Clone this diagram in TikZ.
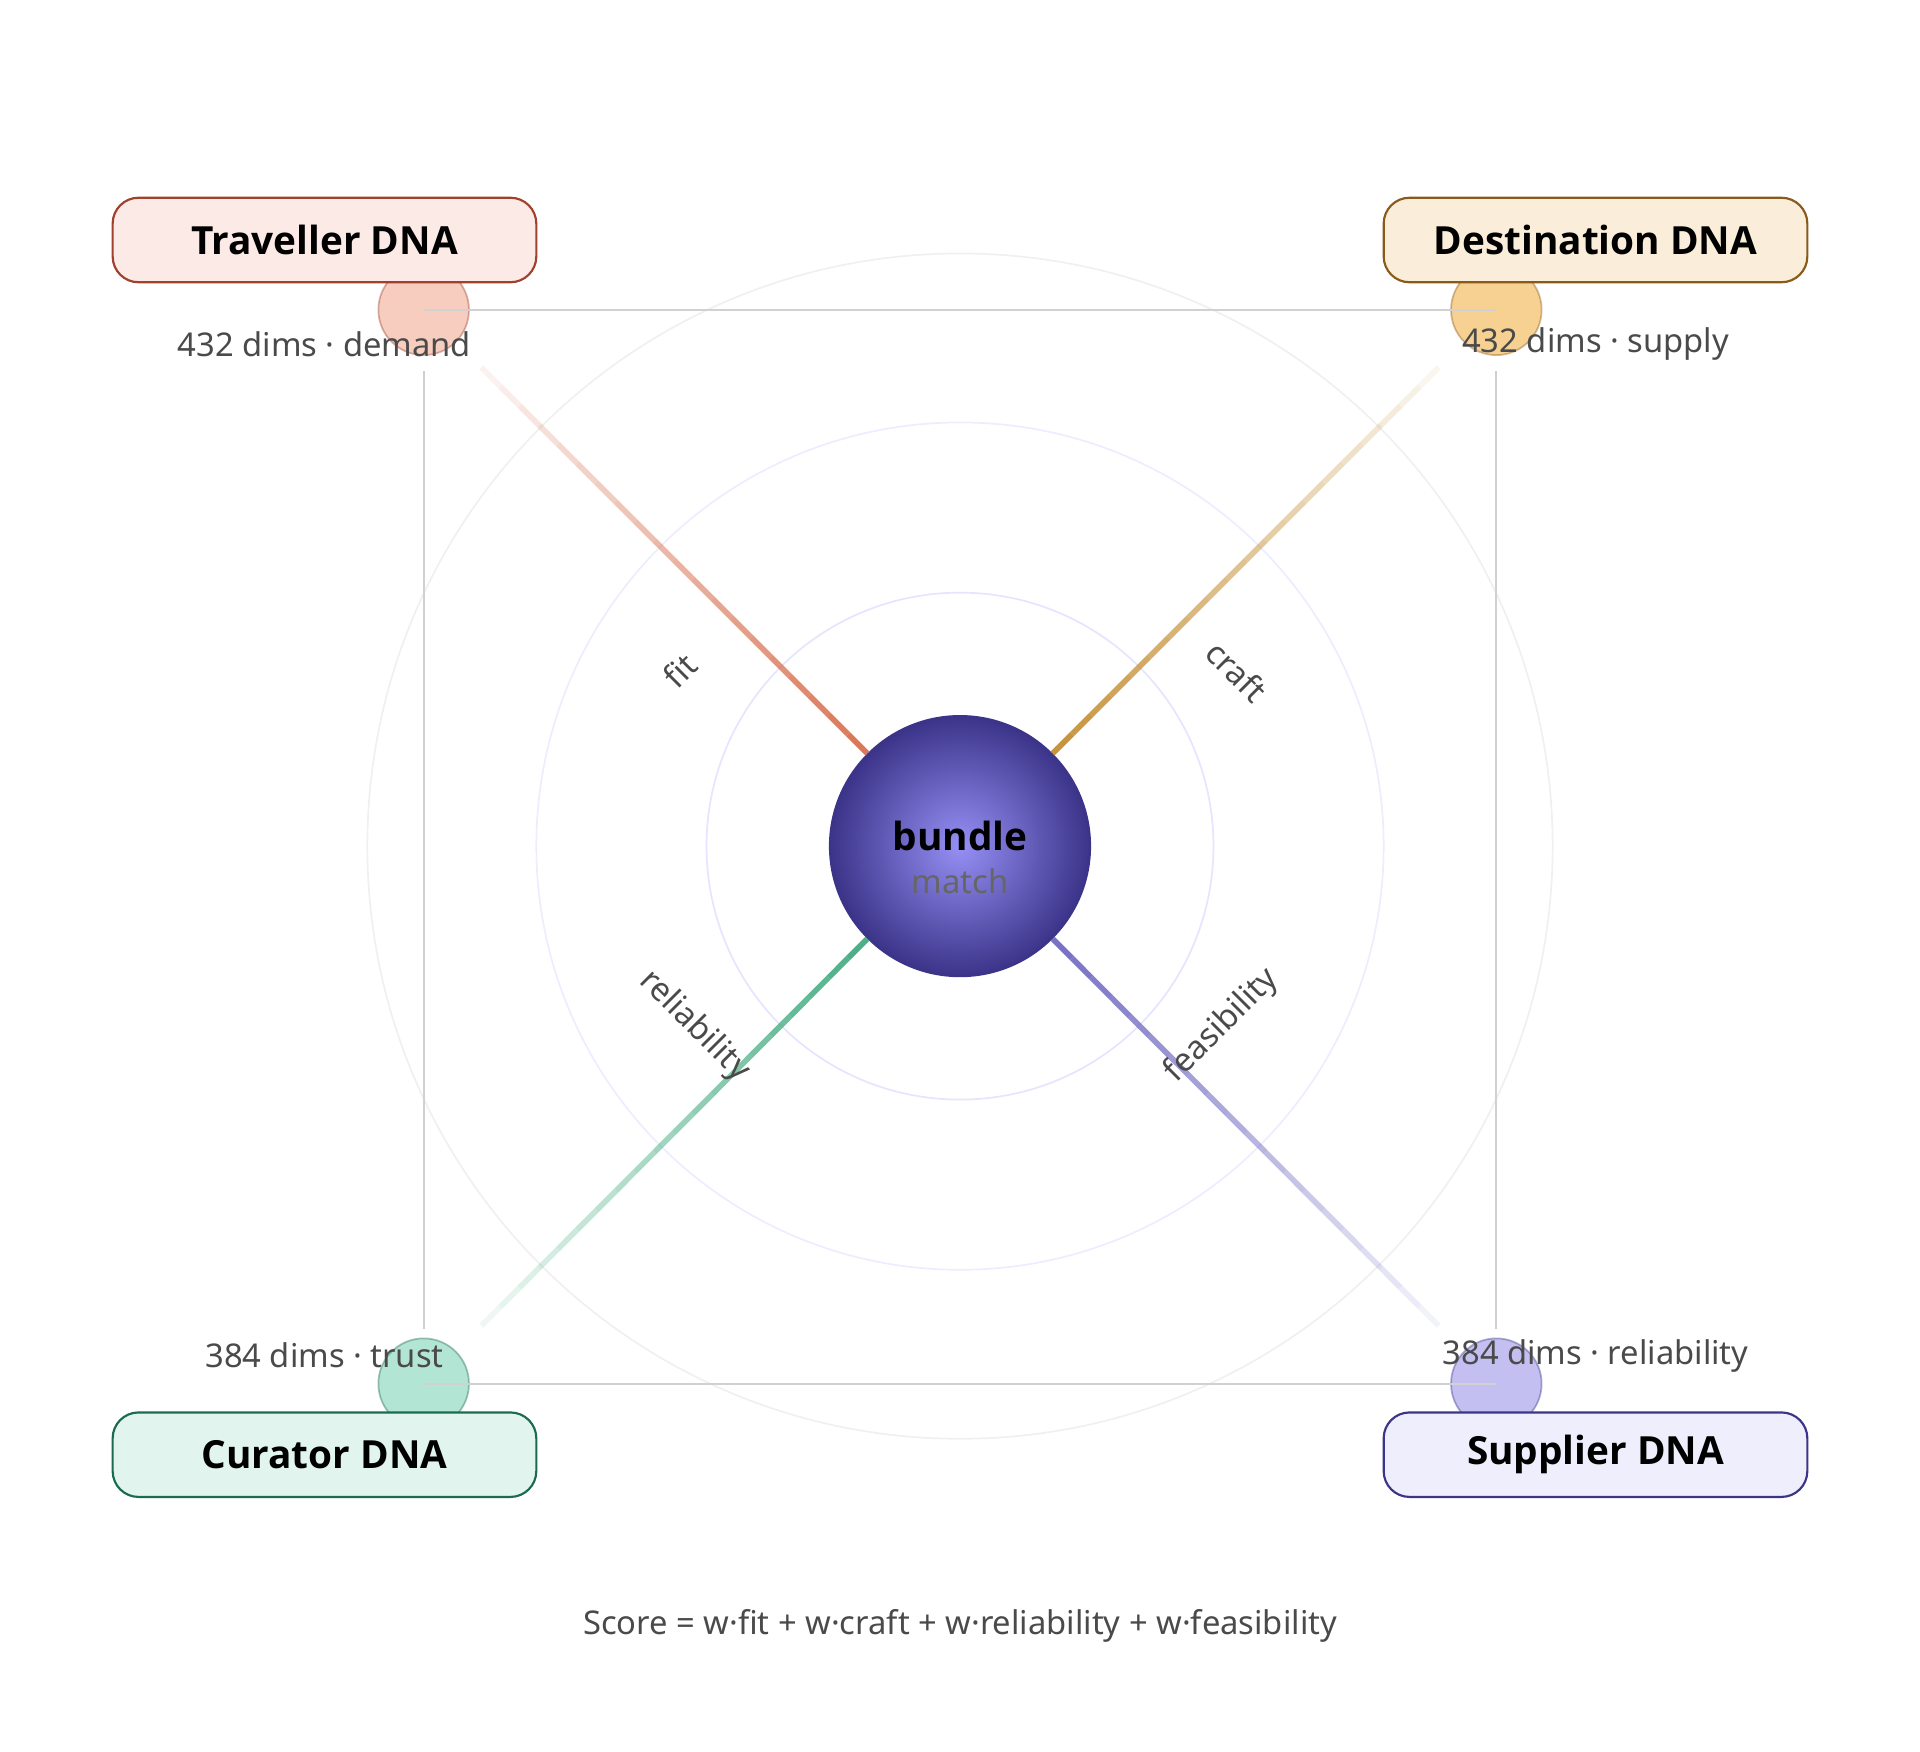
\documentclass[tikz,border=0pt]{standalone}
\usepackage{fontspec}
\setmainfont{Noto Sans}
\newfontfamily\boxfont{Open Sans}
\usetikzlibrary{calc}
\definecolor{trF}{HTML}{FBEAE5}\definecolor{trB}{HTML}{A0412D}\definecolor{trC}{HTML}{F5C4B3}\definecolor{trS}{HTML}{D9785A}
\definecolor{deF}{HTML}{FAEEDA}\definecolor{deB}{HTML}{8A5A1A}\definecolor{deC}{HTML}{F5C97F}\definecolor{deS}{HTML}{C8953F}
\definecolor{cuF}{HTML}{E1F5EE}\definecolor{cuB}{HTML}{1D6B4F}\definecolor{cuC}{HTML}{A5E0CC}\definecolor{cuS}{HTML}{4CAF86}
\definecolor{suF}{HTML}{EEEEFC}\definecolor{suB}{HTML}{3C3489}\definecolor{suC}{HTML}{B8B4EE}\definecolor{suS}{HTML}{7772C4}
\definecolor{txt}{HTML}{4A4A4A}
\begin{document}
\begin{tikzpicture}[x=0.01cm,y=-0.01cm,
 box/.style={draw,rounded corners=6pt,line width=0.5pt,minimum width=346*0.01cm,minimum height=69*0.01cm,font=\boxfont\fontsize{9}{10}\selectfont\bfseries},
 dot/.style={circle,minimum size=74*0.01cm,inner sep=0pt,fill opacity=0.85,draw opacity=0.4},
 lab/.style={text=txt,font=\fontsize{7.6}{9}\selectfont},
 ring/.style={draw=#1,line width=0.4pt},
 grid/.style={draw=black!18,line width=0.4pt}]
\useasboundingbox (0,0) rectangle (1568,1430);
\foreach \r/\c in {207/blue!10,346/blue!7,484/black!6} \draw[ring=\c] (784,691) circle (\r);
\node[dot,fill=trC,draw=trB] (t) at (346,253) {};
\node[dot,fill=deC,draw=deB] (d) at (1222,253) {};
\node[dot,fill=cuC,draw=cuB] (c) at (346,1130) {};
\node[dot,fill=suC,draw=suB] (s) at (1222,1130) {};
\draw[grid] (t.center) -- (d.center);
\draw[grid] (c.center) -- (s.center);
\coordinate (l1) at (346,303); \coordinate (l2) at (346,1085);
\coordinate (r1) at (1222,303); \coordinate (r2) at (1222,1085);
\draw[grid] (l1) -- (l2); \draw[grid] (r1) -- (r2);
\node[circle,minimum size=212*0.01cm,inner sep=0pt,inner color={rgb,255:red,150;green,144;blue,245},outer color={rgb,255:red,60;green,52;blue,137},draw=suB,line width=0.6pt] (m) at (784,691) {};
\node[font=\boxfont\fontsize{9}{10}\selectfont\bfseries,text=black] (mb) at (784,683) {bundle};
\node[font=\fontsize{7.6}{9}\selectfont,text=black!60] (mm) at (784,720) {match};
\foreach \a/\n/\col in {135/t/trS,45/d/deS,225/c/cuS,315/s/suS}{
 \foreach \i in {0,...,19}{
  \pgfmathsetmacro\op{1-\i/21}
  \pgfmathsetmacro\fa{0.87*\i/20}
  \pgfmathsetmacro\fb{0.87*(\i+1)/20}
  \draw[\col,line width=1.3pt,opacity=\op] ($(m.\a)!\fa!(\n.center)$) -- ($(m.\a)!\fb!(\n.center)$);
 }
}
\node[lab,rotate=45] (lf) at (555,548) {fit};
\node[lab,rotate=-45] (lc) at (1010,548) {craft};
\node[lab,rotate=-45] (lr) at (567,838) {reliability};
\node[lab,rotate=45] (lfe) at (998,838) {feasibility};
\node[lab] (n1) at (265,281) {432 dims · demand};
\node[lab] (n2) at (1303,281) {432 dims · supply};
\node[lab] (n3) at (265,1107) {384 dims · trust};
\node[lab] (n4) at (1303,1107) {384 dims · reliability};
\node[box,fill=trF,draw=trB] (bt) at (265,196) {Traveller DNA};
\node[box,fill=deF,draw=deB] (bd) at (1303,196) {Destination DNA};
\node[box,fill=cuF,draw=cuB] (bc) at (265,1188) {Curator DNA};
\node[box,fill=suF,draw=suB] (bs) at (1303,1188) {Supplier DNA};
\node[lab] (score) at (784,1328) {Score = w·fit + w·craft + w·reliability + w·feasibility};
\end{tikzpicture}
\end{document}
